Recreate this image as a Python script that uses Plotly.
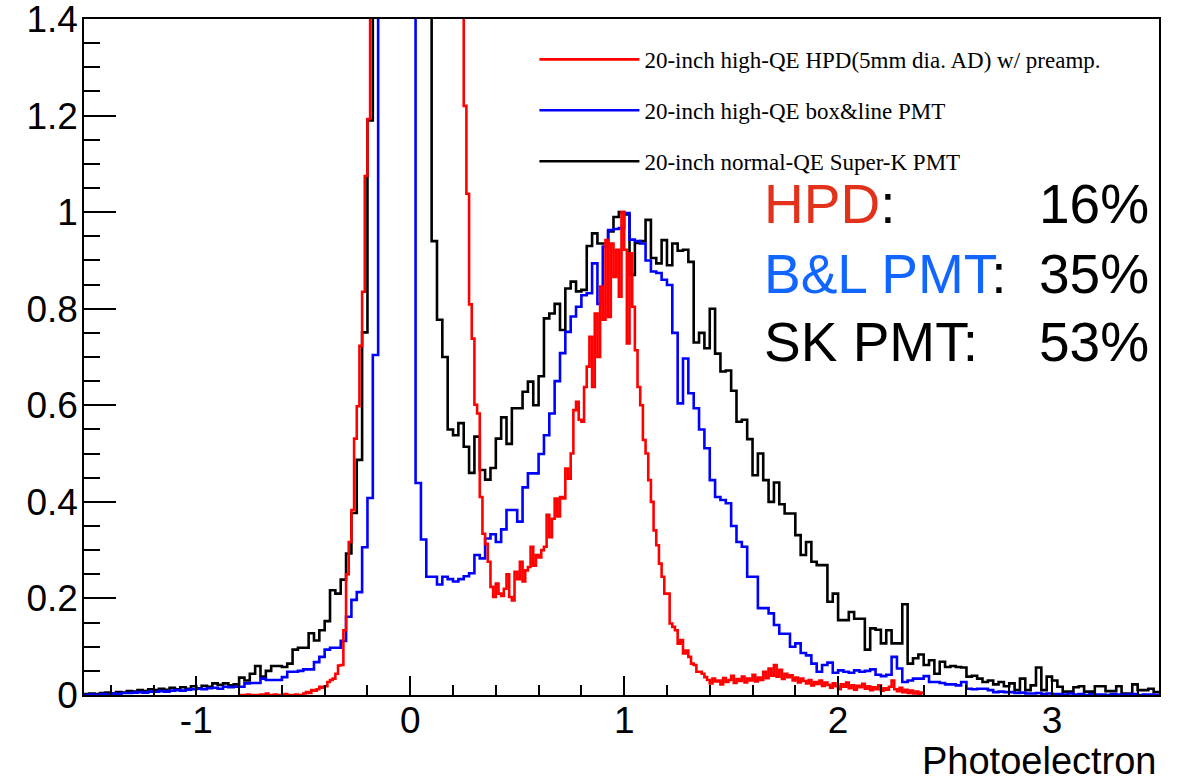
import numpy as np
import plotly.graph_objects as go

# ---------------- data (histogram bin contents, normalised) ----------------
pmt_bin_start = -1.525
pmt_bin_width = 0.025
hpd_bin_start = -0.8
hpd_bin_width = 0.0125

sk_pmt = [
    0.002, 0.003, 0.002, 0.004, 0.005, 0.003, 0.006, 0.005, 0.008, 0.007,
    0.010, 0.008, 0.012, 0.010, 0.013, 0.011, 0.015, 0.012, 0.016, 0.013,
    0.018, 0.014, 0.019, 0.017, 0.024, 0.021, 0.024, 0.020, 0.022,
    0.036, 0.030, 0.044, 0.060, 0.038, 0.050, 0.060, 0.060, 0.058, 0.065,
    0.094, 0.098, 0.098, 0.128, 0.113, 0.134, 0.153, 0.217, 0.210, 0.239,
    0.293, 0.377, 0.487, 0.751, 1.190,
    1.9, 2.8, 3.9, 5.0, 5.8, 6.1, 5.6, 4.4, 3.3, 2.4, 1.7,
    0.940, 0.777, 0.700, 0.550, 0.538, 0.563, 0.514, 0.460, 0.535, 0.466,
    0.446, 0.470, 0.531, 0.575, 0.520, 0.594, 0.594, 0.628, 0.649, 0.600,
    0.660, 0.780, 0.790, 0.810, 0.756, 0.842, 0.856, 0.836, 0.839, 0.930,
    0.956, 0.935, 0.935, 0.960, 0.990, 1.000, 0.995, 0.870, 0.936, 0.940,
    0.984, 0.905, 0.894, 0.942, 0.890, 0.935, 0.920, 0.922, 0.897, 0.730,
    0.750, 0.718, 0.800, 0.707, 0.670, 0.672, 0.630, 0.566, 0.570, 0.530,
    0.455, 0.500, 0.445, 0.400, 0.440, 0.395, 0.376, 0.376, 0.331, 0.290,
    0.317, 0.276, 0.269, 0.269, 0.193, 0.210, 0.155, 0.155, 0.172, 0.158,
    0.158, 0.094, 0.138, 0.135, 0.107, 0.134, 0.107, 0.107, 0.188, 0.065,
    0.076, 0.084, 0.062, 0.072, 0.044, 0.069, 0.058, 0.060, 0.058, 0.057,
    0.038, 0.040, 0.034, 0.027, 0.030, 0.022, 0.027, 0.018, 0.024, 0.010,
    0.034, 0.010, 0.020, 0.057, 0.010, 0.038, 0.030, 0.017, 0.007, 0.007,
    0.016, 0.018, 0.007, 0.007, 0.018, 0.018, 0.008, 0.008, 0.018, 0.003,
    0.003, 0.022, 0.010, 0.010, 0.013, 0.006,
]

bl_pmt = [
    0.000, 0.001, 0.000, 0.002, 0.001, 0.003, 0.002, 0.004, 0.004, 0.005,
    0.006, 0.005, 0.007, 0.007, 0.008, 0.007, 0.009, 0.010, 0.009, 0.011,
    0.012, 0.013, 0.012, 0.014, 0.015, 0.013, 0.017, 0.016, 0.017,
    0.017, 0.024, 0.025, 0.025, 0.034, 0.031, 0.031, 0.031, 0.037, 0.048,
    0.048, 0.050, 0.053, 0.053, 0.068, 0.079, 0.094, 0.098, 0.098, 0.112,
    0.162, 0.197, 0.213, 0.306, 0.408, 0.704,
    2.2, 3.6, 5.0, 5.6, 5.2, 3.8, 2.0,
    0.439, 0.322, 0.245, 0.245, 0.229, 0.245, 0.240, 0.235, 0.240, 0.246,
    0.252, 0.290, 0.283, 0.324, 0.333, 0.317, 0.343, 0.383, 0.383, 0.359,
    0.430, 0.459, 0.459, 0.499, 0.538, 0.583, 0.650, 0.708, 0.752, 0.784,
    0.804, 0.828, 0.832, 0.894, 0.810, 0.929, 0.963, 0.965, 0.967, 0.998,
    0.943, 0.940, 0.935, 0.900, 0.877, 0.874, 0.860, 0.849, 0.750, 0.604,
    0.697, 0.625, 0.594, 0.550, 0.511, 0.445, 0.410, 0.404, 0.397, 0.350,
    0.317, 0.307, 0.245, 0.245, 0.180, 0.180, 0.169, 0.145, 0.127, 0.127,
    0.100, 0.107, 0.087, 0.082, 0.065, 0.048, 0.062, 0.067, 0.046, 0.051,
    0.048, 0.046, 0.051, 0.048, 0.050, 0.053, 0.042, 0.039, 0.042, 0.079,
    0.055, 0.027, 0.030, 0.034, 0.034, 0.039, 0.027, 0.027, 0.025, 0.022,
    0.022, 0.020, 0.027, 0.013, 0.012, 0.013, 0.013, 0.010, 0.006, 0.007,
    0.006, 0.006, 0.004, 0.005, 0.003, 0.003, 0.004, 0.002, 0.003, 0.002,
    0.002, 0.001, 0.003, 0.001, 0.002, 0.000, 0.002, 0.001, 0.001, 0.000,
    0.002, 0.001, 0.000, 0.001, 0.002, 0.000, 0.001, 0.001, 0.000,
]

hpd = [
    0.000, 0.000, 0.000, 0.001, 0.000, 0.000, 0.000, 0.000, 0.001, 0.000,
    0.003, 0.000, 0.000, 0.001, 0.000, 0.000, 0.000, 0.002, 0.000, 0.000,
    0.000, 0.001, 0.000, 0.000,
    0.003, 0.006, 0.004, 0.010, 0.009, 0.012, 0.017, 0.015, 0.018, 0.027,
    0.031, 0.034, 0.044, 0.061,
    0.062, 0.134, 0.250, 0.317, 0.383, 0.531, 0.598, 0.723, 0.835, 1.075,
    1.193,
    1.6, 1.9, 2.3, 2.8, 3.4, 4.0, 4.7, 5.4, 6.0, 6.6,
    7.1, 7.5, 7.8, 8.0, 8.1, 8.0, 7.8, 7.4, 7.0, 6.5,
    5.9, 5.3, 4.7, 4.1, 3.6, 3.1, 2.7, 2.4, 2.1, 1.9,
    1.75, 1.65, 1.58, 1.52, 1.47,
    1.220, 1.038, 0.809, 0.738, 0.601, 0.583,
    0.410, 0.334, 0.313, 0.276, 0.224, 0.203, 0.231, 0.210, 0.205, 0.220,
    0.250, 0.203, 0.196, 0.255, 0.240, 0.276, 0.235, 0.258, 0.265, 0.307,
    0.268, 0.290,
    0.285, 0.300, 0.307, 0.373, 0.327, 0.365, 0.407, 0.370, 0.410, 0.407,
    0.469, 0.448, 0.500, 0.590, 0.607, 0.570, 0.566, 0.638,
    0.680, 0.742, 0.638, 0.790, 0.700, 0.846, 0.777, 0.942, 0.783, 0.935,
    0.866, 0.922, 0.825, 1.000, 0.922,
    0.728, 0.915, 0.804, 0.714, 0.638, 0.600, 0.528, 0.500, 0.445, 0.400,
    0.341, 0.310, 0.272, 0.245, 0.210, 0.210, 0.148, 0.141, 0.134, 0.106,
    0.114, 0.086, 0.092, 0.079, 0.065, 0.062, 0.048, 0.048, 0.044, 0.037,
    0.031, 0.024, 0.034, 0.028, 0.030,
    0.022, 0.035, 0.027, 0.031, 0.040, 0.025, 0.033, 0.029, 0.038, 0.026,
    0.034, 0.030, 0.042, 0.028, 0.036, 0.031, 0.048, 0.035, 0.055, 0.040,
    0.062, 0.038, 0.052, 0.033, 0.044, 0.037, 0.041, 0.030, 0.036, 0.026,
    0.034, 0.029, 0.024, 0.031, 0.020, 0.027, 0.023, 0.030, 0.019, 0.026,
    0.021, 0.015, 0.024, 0.018, 0.012, 0.022, 0.017, 0.026, 0.014, 0.020,
    0.011, 0.019, 0.016, 0.023, 0.013, 0.018, 0.010, 0.016, 0.012, 0.020,
    0.009, 0.014, 0.011, 0.017, 0.030, 0.012, 0.008, 0.015, 0.006, 0.011,
    0.004, 0.009, 0.003, 0.007, 0.002, 0.005,
]

series_names = [
    "20-inch high-QE HPD(5mm dia. AD) w/ preamp.",
    "20-inch high-QE box&line PMT",
    "20-inch normal-QE Super-K PMT",
]
x_tick_values = [-1, 0, 1, 2, 3]
x_tick_labels = ["-1", "0", "1", "2", "3"]
y_tick_values = [0, 0.2, 0.4, 0.6, 0.8, 1.0, 1.2, 1.4]
y_tick_labels = ["0", "0.2", "0.4", "0.6", "0.8", "1", "1.2", "1.4"]


def step_xy(start, width, values):
    edges = start + width * np.arange(len(values) + 1)
    return edges, list(values) + [values[-1]]


fig = go.Figure()

traces = [
    (sk_pmt, pmt_bin_start, pmt_bin_width, "#000000", series_names[2], 3),
    (bl_pmt, pmt_bin_start, pmt_bin_width, "#0000ff", series_names[1], 2),
    (hpd, hpd_bin_start, hpd_bin_width, "#ff0000", series_names[0], 1),
]
for vals, start, width, color, name, rank in traces:
    xs, ys = step_xy(start, width, vals)
    fig.add_trace(go.Scatter(
        x=xs, y=ys, mode="lines", name=name,
        line=dict(color=color, width=2.6, shape="hv"),
        legendrank=rank, legendgroup=name, hoverinfo="skip",
    ))

axis_font = dict(family="Liberation Sans, Arial, sans-serif", size=37, color="black")

fig.update_xaxes(
    range=[-1.525, 3.5], showgrid=False, zeroline=False,
    showline=True, linecolor="black", linewidth=1.5, mirror=True,
    ticks="inside", ticklen=19, tickwidth=1.5, tickcolor="black",
    tickvals=x_tick_values, ticktext=x_tick_labels,
    tickfont=axis_font, ticklabelstandoff=-8, ticklabeloverflow="allow",
    minor=dict(ticks="inside", ticklen=10, tickwidth=1.5, tickcolor="black",
               dtick=0.2, tick0=0, showgrid=False),
)
fig.update_yaxes(
    range=[0, 1.4], showgrid=False, zeroline=False,
    showline=True, linecolor="black", linewidth=1.5, mirror=True,
    ticks="inside", ticklen=32, tickwidth=1.5, tickcolor="black",
    tickvals=y_tick_values, ticktext=y_tick_labels,
    tickfont=axis_font, ticklabelstandoff=-3, ticklabeloverflow="allow",
    minor=dict(ticks="inside", ticklen=16, tickwidth=1.5, tickcolor="black",
               dtick=0.05, tick0=0, showgrid=False),
)

big = dict(family="Liberation Sans, Arial, sans-serif", size=55, color="black")
rows = [
    ("<span style='color:#e2321c'>HPD</span>:", "16%", 0.727),
    ("<span style='color:#1166ff'>B&amp;L PMT</span>:", "35%", 0.623),
    ("SK PMT:", "53%", 0.522),
]
for label, pct, yy in rows:
    fig.add_annotation(xref="paper", yref="paper", x=0.631, y=yy,
                       xanchor="left", yanchor="middle", text=label,
                       showarrow=False, font=big)
    fig.add_annotation(xref="paper", yref="paper", x=0.993, y=yy,
                       xanchor="right", yanchor="middle", text=pct,
                       showarrow=False, font=big)

fig.add_annotation(xref="paper", yref="paper", x=1.0, y=-0.098,
                   xanchor="right", yanchor="middle", text="Photoelectron",
                   showarrow=False,
                   font=dict(family="Liberation Sans, Arial, sans-serif", size=38, color="black"))

fig.update_layout(
    width=1184, height=782,
    margin=dict(l=84, r=25, t=19, b=87, autoexpand=False),
    paper_bgcolor="white", plot_bgcolor="white",
    showlegend=True,
    legend=dict(x=0.419, y=0.972, xanchor="left", yanchor="top",
                bgcolor="rgba(0,0,0,0)", borderwidth=0,
                font=dict(family="Liberation Serif, Times New Roman, serif", size=23, color="black"),
                tracegroupgap=18, itemwidth=100),
)

fig.write_html("out.html")
